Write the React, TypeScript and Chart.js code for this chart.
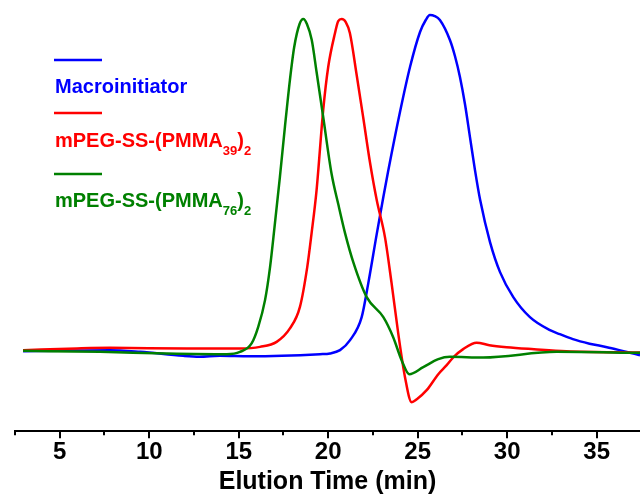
import { useEffect, useRef } from "react";
import { Chart, registerables } from "chart.js";

Chart.register(...registerables);

// ---- data (elution time in min, detector signal in a.u.) ----
const blueTime = [2.95, 5.0, 7.8, 9.5, 11.9, 12.8, 13.95, 15.6, 19.54, 20.1, 20.66, 21.22, 21.87, 22.24, 22.71, 23.08, 23.34, 24.01, 24.57, 25.13, 25.45, 25.68, 25.95, 26.24, 26.8, 27.08, 27.36, 27.64, 27.92, 28.2, 28.49, 29.04, 29.6, 30.34, 31.27, 32.39, 32.94, 33.67, 34.6, 35.57, 36.5, 37.42];
const blueSignal = [1, 1.5, 2, 0.3, -3.7, -4.5, -3.5, -4, -2, -1.3, 2, 12, 35, 69, 118, 155, 180, 240, 285, 320, 332, 337, 336, 332, 312, 296, 275, 248, 215, 182, 152, 110, 80, 55, 35, 22, 18, 13, 8.5, 5, 1, -3];

const redTime = [2.95, 5.96, 7.81, 12.11, 15.07, 16.19, 17.12, 17.86, 18.42, 18.83, 19.07, 19.35, 19.72, 20.0, 20.38, 20.56, 20.75, 20.98, 21.21, 21.59, 21.96, 22.33, 22.71, 23.17, 23.54, 23.91, 24.29, 24.66, 24.95, 25.5, 26.15, 26.62, 27.0, 27.54, 28.29, 29.0, 29.97, 31.5, 33.3, 37.42];
const redSignal = [2, 3.7, 4.3, 3.7, 3.7, 5.3, 10.3, 23.7, 45.3, 85.3, 118.7, 162, 242, 285, 319, 331, 333, 330, 319, 277, 234, 190, 152, 115, 69, 19, -25, -50, -47, -38, -22, -13, -5, 3, 9.5, 7, 5, 3, 1, -0.3];

const greenTime = [2.95, 7.25, 10.99, 14.33, 15.07, 15.72, 16.09, 16.47, 16.75, 17.0, 17.3, 17.58, 17.86, 18.1, 18.4, 18.61, 18.81, 19.08, 19.35, 19.72, 20.19, 20.56, 20.94, 21.4, 22.15, 23.08, 23.63, 24.1, 24.53, 25.31, 26.15, 26.8, 28.66, 32.76, 37.42];
const greenSignal = [1.3, 0.3, -1.3, -2, 0.3, 8.7, 25.3, 52, 85, 125, 175, 225, 272, 305, 328, 333, 328, 312, 280, 235, 178, 148, 119, 90, 55, 35, 15, -8, -22, -15, -7, -4.7, -5.3, 0.3, -0.7];

const seriesLabels = ["Macroinitiator", "mPEG-SS-(PMMA39)2", "mPEG-SS-(PMMA76)2"];
const seriesColors = ["#0000ff", "#ff0000", "#008000"];
// legend text pieces: [text, isSubscript]
const legendPieces: [string, boolean][][] = [
  [["Macroinitiator", false]],
  [["mPEG-SS-(PMMA", false], ["39", true], [")", false], ["2", true]],
  [["mPEG-SS-(PMMA", false], ["76", true], [")", false], ["2", true]],
];

const xTitle = "Elution Time (min)";
const xMin = 2.5;
const xMax = 37.42;
const xStep = 2.5;
const yMin = -79;
const yMax = 352;

const FONT = "'Liberation Sans', Arial, Helvetica, sans-serif";

const toPoints = (t: number[], v: number[]) => t.map((x, i) => ({ x, y: v[i] }));

const tickMarks = {
  id: "tickMarks",
  afterDraw(chart: any) {
    const s = chart.scales.x;
    const ctx = chart.ctx;
    ctx.save();
    ctx.strokeStyle = "#000";
    ctx.lineWidth = 2;
    for (const t of s.ticks) {
      const px = Math.round(s.getPixelForValue(t.value));
      const major = Math.abs(t.value % 5) < 1e-6;
      ctx.beginPath();
      ctx.moveTo(px, s.top);
      ctx.lineTo(px, s.top + (major ? 7 : 4));
      ctx.stroke();
    }
    ctx.restore();
  },
};

const stackedLegend = {
  id: "stackedLegend",
  afterDraw(chart: any) {
    const ctx = chart.ctx;
    const left = chart.chartArea.left + 39;
    const lineYs = [60, 113, 174];
    const textYs = [93, 147, 207];
    ctx.save();
    legendPieces.forEach((pieces, i) => {
      const color = seriesColors[i];
      ctx.strokeStyle = color;
      ctx.lineWidth = 2.5;
      ctx.beginPath();
      ctx.moveTo(left, lineYs[i]);
      ctx.lineTo(left + 48, lineYs[i]);
      ctx.stroke();
      ctx.fillStyle = color;
      ctx.textBaseline = "alphabetic";
      ctx.textAlign = "left";
      let x = left + 1;
      pieces.forEach(([txt, sub]) => {
        ctx.font = sub ? `bold 13px ${FONT}` : `bold 20px ${FONT}`;
        ctx.fillText(txt, x, textYs[i] + (sub ? 7.5 : 0));
        x += ctx.measureText(txt).width;
      });
    });
    ctx.restore();
  },
};

export default function App() {
  const ref = useRef<HTMLCanvasElement | null>(null);
  useEffect(() => {
    if (!ref.current) return;
    const chart = new Chart(ref.current, {
      type: "line",
      data: {
        datasets: [
          { label: seriesLabels[0], data: toPoints(blueTime, blueSignal), borderColor: seriesColors[0], order: 2 },
          { label: seriesLabels[1], data: toPoints(redTime, redSignal), borderColor: seriesColors[1], order: 1 },
          { label: seriesLabels[2], data: toPoints(greenTime, greenSignal), borderColor: seriesColors[2], order: 0 },
        ].map((d) => ({
          ...d,
          borderWidth: 2.5,
          pointRadius: 0,
          fill: false,
          cubicInterpolationMode: "monotone" as const,
        })),
      },
      options: {
        animation: false,
        responsive: true,
        maintainAspectRatio: false,
        layout: { padding: { left: 15, right: 0, top: 0, bottom: 2 } },
        plugins: { legend: { display: false }, tooltip: { enabled: false } },
        scales: {
          x: {
            type: "linear",
            min: xMin,
            max: xMax,
            grid: { drawOnChartArea: false, drawTicks: true, tickLength: 7, color: "rgba(0,0,0,0)" },
            border: { display: true, color: "#000", width: 2 },
            ticks: {
              stepSize: xStep,
              includeBounds: false,
              autoSkip: false,
              maxRotation: 0,
              padding: 0,
              color: "#000",
              font: { family: FONT, weight: "bold", size: 24 },
              callback: (v: any) => (Math.abs(Number(v) % 5) < 1e-6 ? String(v) : ""),
            },
            title: {
              display: true,
              text: xTitle,
              color: "#000",
              font: { family: FONT, weight: "bold", size: 25 },
              padding: { top: 0, bottom: 0 },
            },
          },
          y: { type: "linear", display: false, min: yMin, max: yMax },
        },
      },
      plugins: [tickMarks, stackedLegend],
    });
    return () => chart.destroy();
  }, []);
  return (
    <div style={{ position: "fixed", left: 0, top: 0, width: 640, height: 499, background: "#fff" }}>
      <canvas ref={ref} />
    </div>
  );
}
